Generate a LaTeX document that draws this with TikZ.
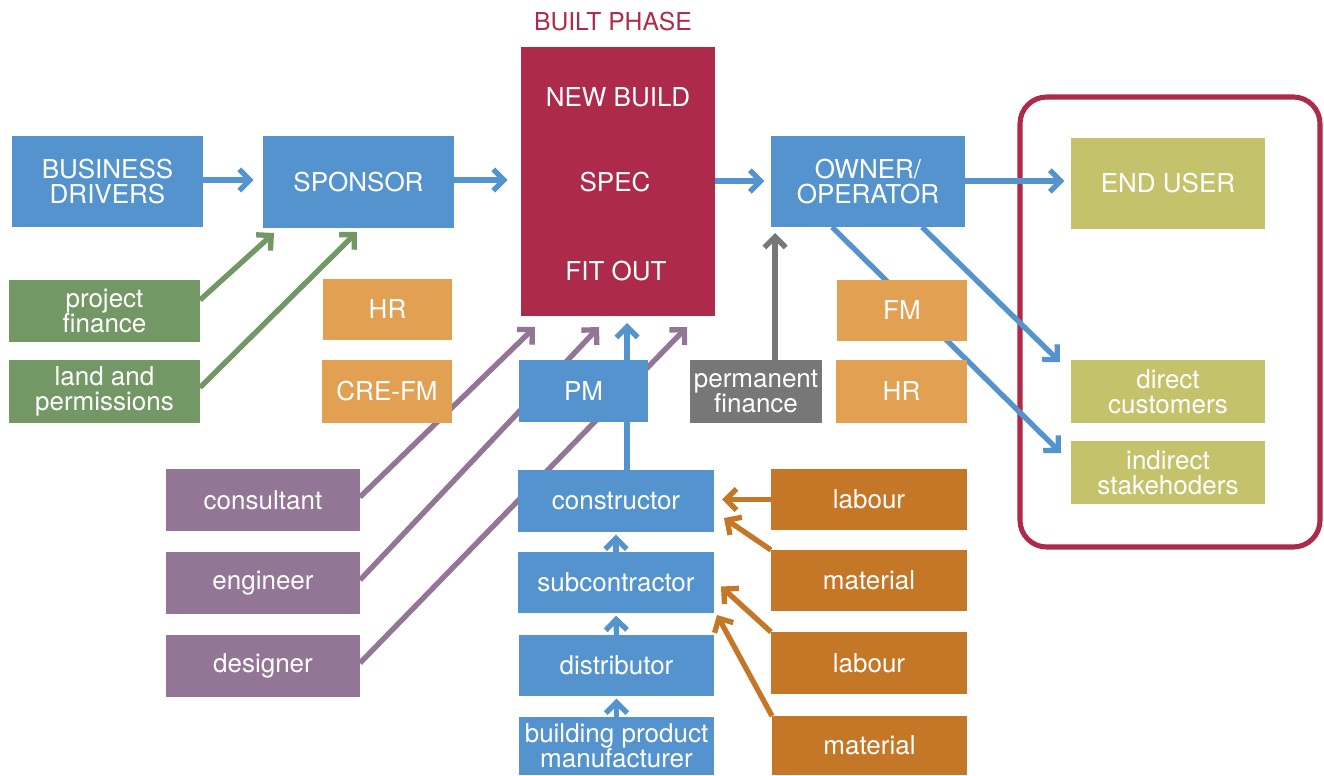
\documentclass[tikz,border=0pt]{standalone}
\usepackage{fontspec}
\setmainfont{TeX Gyre Heros}
\usetikzlibrary{arrows.meta,calc,backgrounds}
\definecolor{cblue}{HTML}{5493CE}
\definecolor{cred}{HTML}{AE2A4A}
\definecolor{cgreen}{HTML}{739865}
\definecolor{clorange}{HTML}{E2A052}
\definecolor{cdorange}{HTML}{C47726}
\definecolor{cpurple}{HTML}{937595}
\definecolor{cgray}{HTML}{777777}
\definecolor{colive}{HTML}{C5C26C}
% box by corners: name, style, x1, y1, x2, y2, text
\newcommand\mybox[7]{%
  \node[#2, minimum width={(#5-#3)*0.75pt}, minimum height={(#6-#4)*0.75pt}]
    (#1) at ({(#3+#5)/2},{(#4+#6)/2}) {#7};}
\begin{document}
\begin{tikzpicture}[x=0.75pt,y=-0.75pt,
  box/.style={rectangle, inner sep=0pt, outer sep=0pt, text=white, align=center,
    font=\fontsize{19.5}{19}\selectfont},
  lbl/.style={inner sep=0pt, text=white, font=\fontsize{19.5}{19}\selectfont},
  conn/.style={line width=4pt, -{Straight Barb[length=8pt,width=16pt]}},
  frame/.style={draw=cred, line width=3.8pt, rounded corners=20pt},
  ]
\useasboundingbox (0,0) rectangle (1324,775);

% title
\node[text=cred, font=\fontsize{18.5}{18}\selectfont] (title) at (613,22) {BUILT PHASE};

% main chain
\mybox{bd}{box, fill=cblue}{12}{136}{203}{227}{BUSINESS\\DRIVERS}
\mybox{spon}{box, fill=cblue}{263}{136}{454}{228}{SPONSOR}
\mybox{built}{box, fill=cred}{521}{47}{715}{316}{}
\node[lbl] (nb) at (618,97) {NEW BUILD};
\node[lbl] (spec) at (615,182) {SPEC};
\node[lbl] (fo) at (616,271) {FIT OUT};
\mybox{own}{box, fill=cblue}{771}{136}{965}{227}{OWNER/\\OPERATOR}
\mybox{eu}{box, fill=colive}{1071}{138}{1265}{229}{END USER}

% left inputs and services
\mybox{pf}{box, fill=cgreen}{9}{280}{200}{342}{project\\finance}
\mybox{lp}{box, fill=cgreen}{9}{360}{200}{423}{land and\\permissions}
\mybox{hra}{box, fill=clorange}{323}{279}{452}{340}{HR}
\mybox{cre}{box, fill=clorange}{322}{360}{452}{423}{CRE-FM}
\mybox{pm}{box, fill=cblue}{519}{360}{648}{422}{PM}
\mybox{pfin}{box, fill=cgray}{690}{360}{822}{423}{permanent\\finance}
\mybox{fm}{box, fill=clorange}{837}{280}{967}{341}{FM}
\mybox{hrb}{box, fill=clorange}{836}{360}{967}{423}{HR}
\mybox{dc}{box, fill=colive}{1071}{360}{1265}{423}{direct\\customers}
\mybox{ind}{box, fill=colive}{1071}{441}{1265}{504}{indirect\\stakehoders}

% consultants
\mybox{cons}{box, fill=cpurple}{166}{469}{360}{531}{consultant}
\mybox{eng}{box, fill=cpurple}{166}{552}{360}{614}{engineer}
\mybox{des}{box, fill=cpurple}{166}{635}{360}{697}{designer}

% supply chain
\mybox{con}{box, fill=cblue}{518}{470}{714}{532}{constructor}
\mybox{sub}{box, fill=cblue}{518}{552}{714}{613}{subcontractor}
\mybox{dis}{box, fill=cblue}{519}{635}{714}{696}{distributor}
\mybox{bpm}{box, fill=cblue}{519}{717}{714}{775}{building product\\manufacturer}

\mybox{laba}{box, fill=cdorange}{771}{469}{967}{530}{labour}
\mybox{mata}{box, fill=cdorange}{771}{550}{967}{611}{material}
\mybox{labb}{box, fill=cdorange}{771}{632}{967}{694}{labour}
\mybox{matb}{box, fill=cdorange}{772}{716}{967}{775}{material}

\begin{scope}[on background layer]
\draw[frame] (1020,97) rectangle (1320,547);

% blue main arrows
\draw[conn, draw=cblue, shorten >=7pt] (bd.east |- 0,180) -- (spon.west |- 0,180);
\draw[conn, draw=cblue, shorten >=10pt] (spon.east |- 0,180) -- (built.west |- 0,180);
\draw[conn, draw=cblue, shorten >=5pt] (built.east |- 0,181) -- (own.west |- 0,181);
\draw[conn, draw=cblue, shorten >=5pt] (own.east |- 0,181) -- (eu.west |- 0,181);
\draw[conn, draw=cblue] ($(own.south east)+(-43,0)$) -- ($(dc.north west)+(-11,2)$);
\draw[conn, draw=cblue] ($(own.south west)+(61,0)$) -- ($(ind.north west)+(-10,12)$);

% gray
\draw[conn, draw=cgray] ($(pfin.north)+(19,0)$) -- ($(own.south west)+(4,6)$);

% green
\draw[conn, draw=cgreen] ($(pf.east)+(0,-11)$) -- ($(spon.south west)+(11,5)$);
\draw[conn, draw=cgreen] ($(lp.east)+(0,-4)$) -- ($(spon.south west)+(94,4)$);

% purple
\draw[conn, draw=cpurple] ($(cons.east)+(0,-3)$) -- ($(built.south west)+(14,11)$);
\draw[conn, draw=cpurple] ($(eng.east)+(0,-3)$) -- ($(built.south west)+(78,11)$);
\draw[conn, draw=cpurple] ($(des.east)+(0,-3)$) -- ($(built.south west)+(166,11)$);

% PM and constructor chain
\draw[line width=4pt, draw=cblue] ($(con.north)+(11,0)$) -- (pm.south -| 627,0);
\draw[conn, draw=cblue] ($(pm.north east)+(-21,0)$) -- ($(built.south west)+(106,7)$);
\draw[conn, draw=cblue, shorten >=2pt] (sub.north) -- (con.south);
\draw[conn, draw=cblue, shorten >=2pt] (dis.north) -- (sub.south);
\draw[conn, draw=cblue, shorten >=2pt] (bpm.north) -- (dis.south);

% orange
\draw[conn, draw=cdorange, shorten >=6pt] (laba.west) -- (laba.west -| con.east);
\draw[conn, draw=cdorange] (mata.north west) -- ($(con.south east)+(10,-14)$);
\draw[conn, draw=cdorange] (labb.north west) -- ($(sub.east)+(7,4)$);
\draw[conn, draw=cdorange] (matb.north west) -- ($(sub.south east)+(3,2)$);
\end{scope}
\end{tikzpicture}
\end{document}
